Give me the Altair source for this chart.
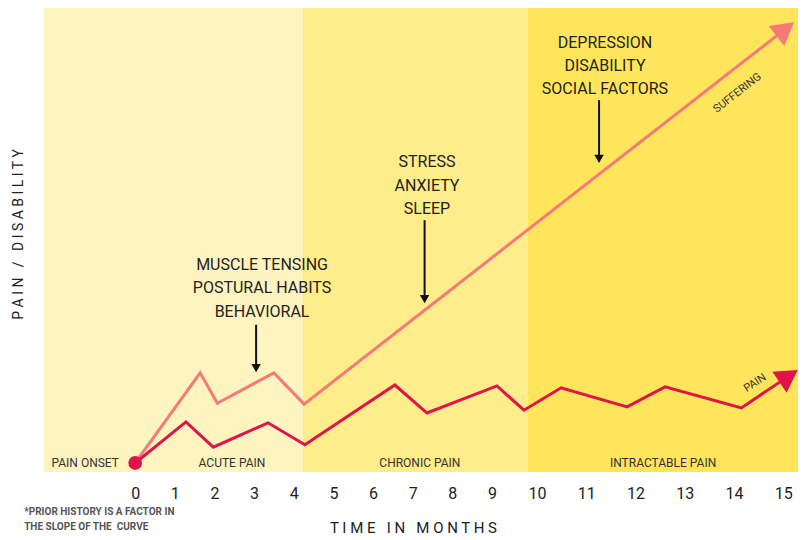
import altair as alt
import pandas as pd

# ---- data (x in months, y in relative pain/disability units) ----
band_start = [-2.3, 4.23, 9.8]
band_end = [4.23, 9.8, 15.3]
band_name = ["acute", "chronic", "intractable"]
band_color = ["#FEF4C0", "#FFEC8A", "#FFE55C"]

suffer_x = [0, 1.64, 2.07, 3.50, 4.26, 15.04]
suffer_y = [0, 19.3, 12.8, 19.3, 12.6, 92.9]

pain_x = [0, 1.28, 1.97, 3.35, 4.28, 6.55, 7.36, 9.11, 9.71, 10.49, 11.83, 12.60, 14.15, 15.11]
pain_y = [0, 8.8, 3.4, 8.6, 3.9, 16.7, 10.7, 16.5, 11.3, 16.1, 12.0, 16.3, 11.8, 18.6]

month_ticks = list(range(0, 16))

phase_labels = ["PAIN ONSET", "ACUTE PAIN", "CHRONIC PAIN", "INTRACTABLE PAIN"]
phase_x = [-1.26, 2.44, 7.18, 12.56]
phase_y = [0, 0, 0, 0]

factor_lines = ["MUSCLE TENSING", "POSTURAL HABITS", "BEHAVIORAL",
                "STRESS", "ANXIETY", "SLEEP",
                "DEPRESSION", "DISABILITY", "SOCIAL FACTORS"]
factor_x = [3.2, 3.2, 3.2, 7.36, 7.36, 7.36, 11.38, 11.38, 11.38]
factor_y = [42.4, 37.5, 32.3, 64.5, 59.3, 54.4, 89.9, 85.0, 80.1]

arrow_x = [3.05, 7.30, 11.26]
arrow_top = [29.6, 52.0, 77.7]
arrow_bottom = [20.3, 35.1, 65.1]

series_label = ["SUFFERING", "PAIN"]
series_label_x = [14.07, 14.43]
series_label_y = [79.2, 17.1]
series_label_angle = [322, 327]

head_x = [15.04, 15.11]
head_y = [92.9, 18.6]
head_angle = [52, 56]
head_color = ["#F7797A", "#E0144A"]

note_lines = ["*PRIOR HISTORY IS A FACTOR IN", "THE SLOPE OF THE\u00a0\u00a0CURVE"]
note_x = [-2.8, -2.8]
note_y = [-10.5, -13.7]

NB = "\u00a0"
X_TITLE = " ".join("TIME") + NB * 3 + " ".join("IN") + NB * 3 + " ".join("MONTHS")
Y_TITLE = " ".join("PAIN") + NB * 3 + "/" + NB * 3 + " ".join("DISABILITY")

# ---- tables ----
bands = pd.DataFrame({"x": band_start, "x2": band_end, "name": band_name, "color": band_color})
suffer = pd.DataFrame({"x": suffer_x, "y": suffer_y, "order": range(len(suffer_x))})
pain = pd.DataFrame({"x": pain_x, "y": pain_y, "order": range(len(pain_x))})
phases = pd.DataFrame({"x": phase_x, "y": phase_y, "t": phase_labels})
factors = pd.DataFrame({"x": factor_x, "y": factor_y, "t": factor_lines})
arrows = pd.DataFrame({"x": arrow_x, "y": arrow_top, "y2": arrow_bottom})
slabels = pd.DataFrame({"x": series_label_x, "y": series_label_y, "t": series_label, "a": series_label_angle})
heads = pd.DataFrame({"x": head_x, "y": head_y, "a": head_angle, "c": head_color})
notes = pd.DataFrame({"x": note_x, "y": note_y, "t": note_lines})
onset = pd.DataFrame({"x": [0], "y": [0]})

FONT = "Roboto"
xs = alt.Scale(domain=[-2.3, 9, 10, 15.3], range=[0, 448, 493, 754], nice=False, zero=False)
ys = alt.Scale(domain=[-1.93, 97.43], nice=False, zero=False)

x_axis = alt.Axis(values=month_ticks, title=X_TITLE, domain=False, ticks=False,
                  grid=False, labelFontSize=16, labelFont=FONT, labelColor="#222222",
                  labelPadding=13, labelFlush=False,
                  titleFont=FONT, titleFontSize=15, titleFontWeight="normal", titleColor="#222222",
                  titleX=369, titleY=55, titleAlign="center", titleBaseline="middle")
y_axis = alt.Axis(labels=False, ticks=False, domain=False, grid=False,
                  title=Y_TITLE,
                  titleFont=FONT, titleFontSize=14, titleFontWeight="normal", titleColor="#222222",
                  titleX=-26, titleY=226, titleAlign="center", titleBaseline="middle")


def X():
    return alt.X("x:Q", scale=xs, axis=x_axis, title=X_TITLE)


def Y(field="y:Q"):
    return alt.Y(field, scale=ys, axis=y_axis, title=Y_TITLE)


bg = alt.Chart(bands).mark_rect().encode(
    x=X(),
    x2="x2:Q",
    y=alt.value(0),
    y2=alt.value(464),
    color=alt.Color("color:N", scale=None),
)

suffer_line = alt.Chart(suffer).mark_line(color="#F7797A", strokeWidth=3).encode(
    x=X(), y=Y(), order="order:Q")
pain_line = alt.Chart(pain).mark_line(color="#E0144A", strokeWidth=3).encode(
    x=X(), y=Y(), order="order:Q")

head_marks = alt.Chart(heads).mark_point(shape="triangle-up", filled=True, size=650, opacity=1).encode(
    x=X(), y=Y(), angle=alt.Angle("a:Q", scale=None),
    color=alt.Color("c:N", scale=None))

onset_dot = alt.Chart(onset).mark_circle(size=190, color="#E0144A", opacity=1).encode(
    x=X(), y=Y())

phase_text = alt.Chart(phases).mark_text(font=FONT, fontSize=12, color="#333333", baseline="middle").encode(
    x=X(), y=Y(), text="t:N")

factor_text = alt.Chart(factors).mark_text(font=FONT, fontSize=16, color="#222222", baseline="middle").encode(
    x=X(), y=Y(), text="t:N")

arrow_rules = alt.Chart(arrows).mark_rule(color="#111111", strokeWidth=2).encode(
    x=X(), y=Y(), y2="y2:Q")
arrow_heads = alt.Chart(arrows).mark_point(shape="triangle-down", filled=True, size=90, color="#111111", opacity=1).encode(
    x=X(), y=Y("y2:Q"))

series_text = alt.Chart(slabels).mark_text(font=FONT, fontSize=11, color="#333333", baseline="middle").encode(
    x=X(), y=Y(), text="t:N", angle=alt.Angle("a:Q", scale=None))

note_text = alt.Chart(notes).mark_text(font=FONT, fontSize=10, fontWeight="bold", color="#555555",
                                       align="left", baseline="middle").encode(
    x=X(), y=Y(), text="t:N")

chart = alt.layer(
    bg, suffer_line, pain_line, head_marks, onset_dot,
    phase_text, factor_text, arrow_rules, arrow_heads, series_text, note_text
).properties(
    width=754, height=464,
    autosize=alt.AutoSizeParams(type="none"),
    padding={"left": 36, "top": 0, "right": 3, "bottom": 66},
    background="white",
).configure_view(stroke=None)

chart.save("out.html", embed_options={"renderer": "svg", "actions": False})
